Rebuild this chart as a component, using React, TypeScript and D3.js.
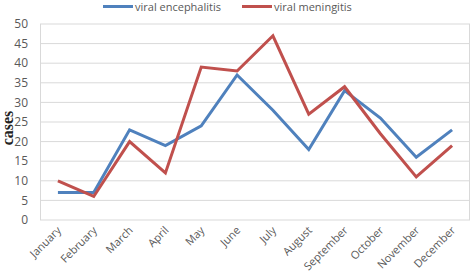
import React from "react";
import * as d3 from "d3";

const months = ["January","February","March","April","May","June","July","August","September","October","November","December"];
const encephalitis = [7,7,23,19,24,37,28,18,33,26,16,23];
const meningitis = [10,6,20,12,39,38,47,27,34,22,11,19];
const yTicks = [0,5,10,15,20,25,30,35,40,45,50];
const seriesNames = ["viral encephalitis","viral meningitis"];
const colors = ["#4F81BD","#C0504D"];

const W = 472, H = 279;
const M = { left: 40, right: 2, top: 24, bottom: 59 };

export default function App() {
  const x = d3.scaleBand<string>().domain(months).range([M.left, W - M.right]);
  const y = d3.scaleLinear().domain([0, 50]).range([H - M.bottom, M.top]);
  const line = d3.line<number>().x((_, i) => (x(months[i]) as number) + x.bandwidth() / 2).y(d => y(d));
  const font = "'Open Sans', 'Liberation Sans', Arial, sans-serif";
  const data = [encephalitis, meningitis];
  const legendX = [103, 242];
  return (
    <svg width={W} height={H} style={{ position: "absolute", left: 0, top: 0, background: "#fff" }}>
      {yTicks.map(t => (
        <g key={t}>
          <line x1={M.left} x2={W - M.right} y1={y(t)} y2={y(t)} stroke="#d9d9d9" strokeWidth={1} />
          <text x={28} y={y(t)} dy="0.35em" textAnchor="end" fontFamily={font} fontSize={12} fill="#595959">{t}</text>
        </g>
      ))}
      <line x1={M.left + 0.5} x2={M.left + 0.5} y1={M.top} y2={H - M.bottom} stroke="#d9d9d9" />
      <line x1={W - M.right - 0.5} x2={W - M.right - 0.5} y1={M.top} y2={H - M.bottom} stroke="#d9d9d9" />
      {months.map(m => {
        const cx = (x(m) as number) + x.bandwidth() / 2 + 4;
        const cy = H - M.bottom + 11;
        return (
          <text key={m} x={cx} y={cy} textAnchor="end" fontFamily={font} fontSize={11} fill="#595959"
            transform={`rotate(-45 ${cx} ${cy})`}>{m}</text>
        );
      })}
      {data.map((d, i) => (
        <path key={i} d={line(d) as string} fill="none" stroke={colors[i]} strokeWidth={3} strokeLinejoin="miter" />
      ))}
      {seriesNames.map((n, i) => (
        <g key={n}>
          <line x1={legendX[i]} x2={legendX[i] + 30} y1={6.5} y2={6.5} stroke={colors[i]} strokeWidth={3} />
          <text x={legendX[i] + 32} y={7} dy="0.35em" fontFamily={font} fontSize={11} fill="#595959">{n}</text>
        </g>
      ))}
      <text transform={`translate(13, ${128}) rotate(-90)`} textAnchor="middle" fontFamily="'Liberation Serif', 'Times New Roman', serif" fontWeight="bold" fontSize={16} fill="#222">cases</text>
    </svg>
  );
}
